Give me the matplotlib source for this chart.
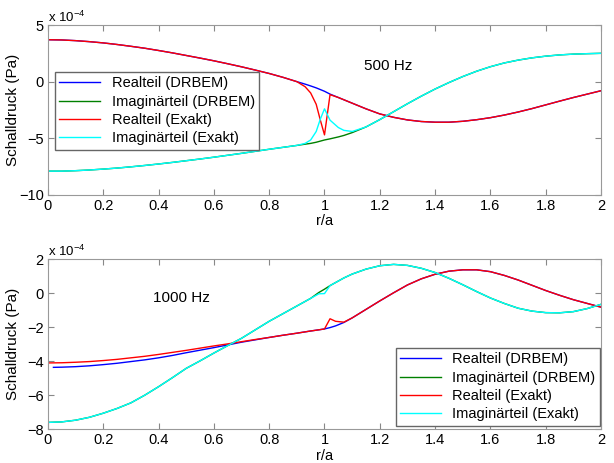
import numpy as np
import matplotlib
matplotlib.use("Agg")
import matplotlib.pyplot as plt

plt.rcParams['font.family'] = ['Liberation Sans', 'DejaVu Sans']
plt.rcParams['mathtext.fontset'] = 'custom'
plt.rcParams['mathtext.rm'] = 'Liberation Sans'

# Werte in Einheiten von 1e-4 Pa
# --- 500 Hz ---
r_500 = [0, 0.05, 0.1, 0.15, 0.2, 0.25, 0.3, 0.35, 0.4, 0.45, 0.5, 0.55, 0.6, 0.65, 0.7, 0.75, 0.8, 0.85, 0.9,
         0.93, 0.95, 0.97, 0.985, 1.0,
         1.02, 1.05, 1.07, 1.1,
         1.15, 1.2, 1.25, 1.3, 1.35, 1.4, 1.45, 1.5, 1.55, 1.6, 1.65, 1.7, 1.75, 1.8, 1.85, 1.9, 1.95, 2.0]
re_drbem_500 = [3.70, 3.68, 3.62, 3.53, 3.42, 3.28, 3.12, 2.95, 2.75, 2.54, 2.31, 2.08, 1.84, 1.58, 1.31, 1.02, 0.72, 0.38, 0.0,
                -0.22, -0.38, -0.55, -0.7, -0.85,
                -1.1, -1.4, -1.6, -1.9,
                -2.4, -2.85, -3.15, -3.38, -3.52, -3.58, -3.58, -3.5, -3.36, -3.18, -2.95, -2.68, -2.38, -2.05, -1.72, -1.4, -1.1, -0.8]
re_exakt_500 = [3.70, 3.68, 3.62, 3.53, 3.42, 3.28, 3.12, 2.95, 2.75, 2.54, 2.31, 2.08, 1.84, 1.58, 1.31, 1.02, 0.72, 0.38, 0.0,
                -0.45, -1.0, -2.0, -3.4, -4.7,
                -1.15, -1.4, -1.6, -1.9,
                -2.4, -2.85, -3.15, -3.38, -3.52, -3.58, -3.58, -3.5, -3.36, -3.18, -2.95, -2.68, -2.38, -2.05, -1.72, -1.4, -1.1, -0.8]
im_drbem_500 = [-7.9, -7.9, -7.86, -7.8, -7.72, -7.63, -7.52, -7.4, -7.27, -7.13, -6.98, -6.83, -6.67, -6.5, -6.33, -6.15, -5.97, -5.8, -5.63,
                -5.52, -5.45, -5.35, -5.25, -5.15,
                -5.05, -4.88, -4.75, -4.5,
                -4.0, -3.35, -2.65, -1.95, -1.28, -0.65, -0.08, 0.45, 0.92, 1.32, 1.65, 1.9, 2.1, 2.25, 2.36, 2.43, 2.47, 2.5]
im_exakt_500 = [-7.9, -7.9, -7.86, -7.8, -7.72, -7.63, -7.52, -7.4, -7.27, -7.13, -6.98, -6.83, -6.67, -6.5, -6.33, -6.15, -5.97, -5.8, -5.63,
                -5.45, -5.15, -4.4, -3.3, -2.4,
                -3.4, -4.05, -4.3, -4.4,
                -4.0, -3.35, -2.65, -1.95, -1.28, -0.65, -0.08, 0.45, 0.92, 1.32, 1.65, 1.9, 2.1, 2.25, 2.36, 2.43, 2.47, 2.5]

# --- 1000 Hz ---
r_1000 = [0, 0.05, 0.1, 0.15, 0.2, 0.25, 0.3, 0.35, 0.4, 0.45, 0.5, 0.55, 0.6, 0.65, 0.7, 0.75, 0.8, 0.85, 0.9, 0.95,
          0.98, 1.0, 1.02, 1.04, 1.07, 1.1,
          1.15, 1.2, 1.25, 1.3, 1.35, 1.4, 1.45, 1.5, 1.55, 1.6, 1.65, 1.7, 1.75, 1.8, 1.85, 1.9, 1.95, 2.0]
r_drbem_1000 = [0.02] + r_1000[1:]
re_drbem_1000 = [-4.36, -4.35, -4.32, -4.27, -4.2, -4.12, -4.02, -3.92, -3.8, -3.66, -3.5, -3.35, -3.2, -3.04, -2.88, -2.74, -2.6, -2.47, -2.35, -2.22,
                 -2.15, -2.1, -2.02, -1.92, -1.72, -1.45,
                 -0.95, -0.45, 0.03, 0.49, 0.85, 1.12, 1.3, 1.38, 1.38, 1.27, 1.05, 0.78, 0.47, 0.16, -0.12, -0.38, -0.6, -0.82]
re_exakt_1000 = [-4.1, -4.09, -4.06, -4.02, -3.96, -3.89, -3.8, -3.71, -3.6, -3.48, -3.36, -3.23, -3.1, -2.98, -2.85, -2.72, -2.6, -2.47, -2.35, -2.22,
                 -2.15, -2.1, -1.5, -1.65, -1.7, -1.45,
                 -0.95, -0.45, 0.03, 0.49, 0.85, 1.12, 1.3, 1.38, 1.38, 1.27, 1.05, 0.78, 0.47, 0.16, -0.12, -0.38, -0.6, -0.82]
im_drbem_1000 = [-7.6, -7.57, -7.47, -7.3, -7.06, -6.78, -6.45, -6.0, -5.5, -4.97, -4.42, -3.98, -3.52, -3.08, -2.65, -2.15, -1.65, -1.2, -0.75, -0.3,
                 0.05, 0.24, 0.45, 0.63, 0.9, 1.13,
                 1.42, 1.62, 1.7, 1.64, 1.47, 1.22, 0.88, 0.5, 0.1, -0.28, -0.6, -0.88, -1.05, -1.14, -1.15, -1.08, -0.9, -0.65]
im_exakt_1000 = [-7.6, -7.57, -7.47, -7.3, -7.06, -6.78, -6.45, -6.0, -5.5, -4.97, -4.42, -3.98, -3.52, -3.08, -2.65, -2.15, -1.65, -1.2, -0.75, -0.3,
                 -0.03, -0.02, 0.45, 0.63, 0.9, 1.13,
                 1.42, 1.62, 1.7, 1.64, 1.47, 1.22, 0.88, 0.5, 0.1, -0.28, -0.6, -0.88, -1.05, -1.14, -1.15, -1.08, -0.9, -0.65]

labels = ['Realteil (DRBEM)', 'Imaginärteil (DRBEM)', 'Realteil (Exakt)', 'Imaginärteil (Exakt)']
colors = ['#0000ff', '#008000', '#ff0000', '#00ffff']
xticks = [0, 0.2, 0.4, 0.6, 0.8, 1, 1.2, 1.4, 1.6, 1.8, 2]
xticklabels = ['0', '0.2', '0.4', '0.6', '0.8', '1', '1.2', '1.4', '1.6', '1.8', '2']

fig = plt.figure(figsize=(6.14, 4.63), dpi=100)
ax1 = fig.add_axes([0.078, 0.579, 0.901, 0.367])
ax2 = fig.add_axes([0.078, 0.073, 0.901, 0.367])


def style(ax, ylim, yticks):
    ax.set_xlim(0, 2)
    ax.set_ylim(*ylim)
    ax.set_xticks(xticks)
    ax.set_xticklabels(xticklabels)
    ax.set_yticks(yticks)
    ax.tick_params(direction='in', top=True, right=True, length=4, color='#888888',
                   labelsize=10.5, pad=3)
    for s in ax.spines.values():
        s.set_color('#999999')
        s.set_linewidth(0.8)
    ax.set_xlabel('r/a', fontsize=10.5, labelpad=1)
    ax.set_ylabel('Schalldruck (Pa)', fontsize=11)
    ax.yaxis.set_label_coords(-0.05, 0.5)
    ax.text(0.0, 1.0, r'x 10$^{\mathregular{-4}}$', transform=ax.transAxes,
            fontsize=9.5, ha='left', va='bottom')


leg_kw = dict(frameon=True, fancybox=False, edgecolor='#666666', fontsize=10.5,
              handlelength=2.8, borderpad=0.3, labelspacing=0.3, framealpha=1)

# 500 Hz
series_500 = [(r_500, re_drbem_500), (r_500, im_drbem_500), (r_500, re_exakt_500), (r_500, im_exakt_500)]
for (x, y), c, lab in zip(series_500, colors, labels):
    ax1.plot(x, y, color=c, lw=1.0, label=lab)
style(ax1, (-10, 5), [-10, -5, 0, 5])
ax1.text(1.143, 1.05, '500 Hz', fontsize=11)
ax1.legend(loc='upper left', bbox_to_anchor=(0.013, 0.724), borderaxespad=0, **leg_kw)

# 1000 Hz
series_1000 = [(r_drbem_1000, re_drbem_1000), (r_1000, im_drbem_1000),
               (r_1000, re_exakt_1000), (r_1000, im_exakt_1000)]
for (x, y), c, lab in zip(series_1000, colors, labels):
    ax2.plot(x, y, color=c, lw=1.0, label=lab)
style(ax2, (-8, 2), [-8, -6, -4, -2, 0, 2])
ax2.text(0.38, -0.5, '1000 Hz', fontsize=11)
ax2.legend(loc='lower right', bbox_to_anchor=(0.998, 0.02), borderaxespad=0, **leg_kw)

fig.savefig('out.png', dpi=100)
